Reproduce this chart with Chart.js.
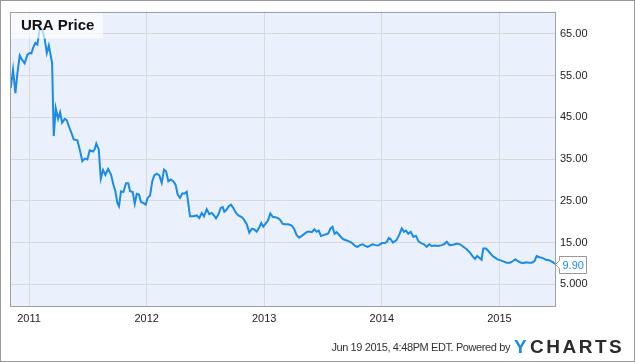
<!DOCTYPE html>
<html>
<head>
<meta charset="utf-8">
<script src="https://cdn.jsdelivr.net/npm/chart.js@4"></script>
<style>
  body { margin: 0; background: #fff; }
  canvas { display: block; }
</style>
</head>
<body>
<canvas id="priceChart" width="635" height="362"></canvas>
<script>
// decimal years
const dates = [
  2010.844, 2010.864, 2010.884, 2010.901, 2010.921, 2010.940, 2010.963, 2010.986,
  2011.006, 2011.020, 2011.034, 2011.054, 2011.071, 2011.085, 2011.096, 2011.113,
  2011.134, 2011.151, 2011.168, 2011.185, 2011.196, 2011.210, 2011.227, 2011.247,
  2011.264, 2011.281, 2011.304, 2011.321, 2011.338, 2011.360, 2011.380, 2011.411,
  2011.431, 2011.453, 2011.474, 2011.496, 2011.516, 2011.544, 2011.559, 2011.572,
  2011.593, 2011.610, 2011.629, 2011.649, 2011.672, 2011.697, 2011.717, 2011.734,
  2011.751, 2011.765, 2011.782, 2011.802, 2011.825, 2011.844, 2011.859, 2011.882,
  2011.899, 2011.916, 2011.935, 2011.952, 2011.972, 2011.992, 2012.009, 2012.029,
  2012.048, 2012.065, 2012.086, 2012.108, 2012.128, 2012.148, 2012.165, 2012.185,
  2012.205, 2012.227, 2012.247, 2012.264, 2012.284, 2012.304, 2012.321, 2012.341,
  2012.369, 2012.397, 2012.426, 2012.448, 2012.469, 2012.488, 2012.511, 2012.533,
  2012.554, 2012.573, 2012.590, 2012.610, 2012.630, 2012.647, 2012.661, 2012.681,
  2012.698, 2012.718, 2012.737, 2012.760, 2012.780, 2012.809, 2012.828, 2012.851,
  2012.873, 2012.894, 2012.913, 2012.936, 2012.958, 2012.975, 2012.992, 2013.013,
  2013.032, 2013.052, 2013.072, 2013.092, 2013.115, 2013.134, 2013.157, 2013.177,
  2013.205, 2013.234, 2013.256, 2013.276, 2013.298, 2013.319, 2013.341, 2013.367,
  2013.389, 2013.406, 2013.426, 2013.445, 2013.463, 2013.483, 2013.504, 2013.526,
  2013.545, 2013.564, 2013.581, 2013.598, 2013.615, 2013.632, 2013.651, 2013.673,
  2013.702, 2013.730, 2013.753, 2013.772, 2013.792, 2013.815, 2013.838, 2013.857,
  2013.880, 2013.900, 2013.923, 2013.945, 2013.968, 2013.985, 2014.002, 2014.027,
  2014.044, 2014.059, 2014.076, 2014.095, 2014.125, 2014.149, 2014.170, 2014.189,
  2014.206, 2014.225, 2014.246, 2014.268, 2014.291, 2014.312, 2014.339, 2014.359,
  2014.382, 2014.404, 2014.424, 2014.452, 2014.480, 2014.509, 2014.529, 2014.552,
  2014.576, 2014.608, 2014.639, 2014.665, 2014.693, 2014.722, 2014.750, 2014.773,
  2014.793, 2014.810, 2014.829, 2014.848, 2014.863, 2014.886, 2014.906, 2014.924,
  2014.943, 2014.963, 2014.984, 2015.005, 2015.033, 2015.060, 2015.090, 2015.116,
  2015.137, 2015.154, 2015.175, 2015.201, 2015.226, 2015.252, 2015.277, 2015.299,
  2015.317, 2015.341, 2015.371, 2015.396, 2015.422, 2015.443, 2015.456, 2015.473
];

const prices = [
  52.0, 56.4, 50.8, 55.6, 59.8, 58.8, 57.9, 60.0,
  60.4, 60.3, 61.6, 62.8, 62.4, 65.2, 66.4, 66.0,
  63.6, 60.4, 62.2, 59.6, 58.0, 40.5, 47.2, 44.6,
  46.2, 43.7, 44.6, 44.3, 42.9, 41.3, 39.7, 39.5,
  37.3, 34.5, 35.1, 34.9, 37.1, 36.8, 37.4, 38.7,
  37.3, 30.3, 32.4, 31.2, 32.6, 31.3, 28.9, 27.3,
  24.5, 23.7, 27.3, 27.1, 29.2, 29.2, 27.3, 27.1,
  24.3, 26.7, 26.5, 24.7, 24.5, 24.1, 25.7, 26.3,
  29.7, 31.1, 31.5, 31.1, 29.3, 32.5, 32.1, 29.7,
  30.1, 29.7, 28.8, 26.5, 25.7, 26.8, 26.7, 27.2,
  21.3, 21.3, 21.5, 20.9, 22.1, 21.3, 23.0, 21.8,
  22.1, 21.5, 20.8, 21.7, 23.3, 23.5, 22.4, 22.9,
  23.7, 24.1, 23.3, 22.1, 21.5, 21.1, 20.5, 19.4,
  17.4, 18.3, 18.2, 17.6, 18.7, 19.7, 18.8, 19.6,
  20.3, 22.0, 21.2, 21.1, 20.9, 20.5, 19.5, 19.4,
  19.4, 19.1, 18.2, 16.8, 16.2, 16.6, 17.1, 17.6,
  17.6, 17.5, 18.2, 17.6, 17.9, 16.6, 16.8, 17.0,
  17.2, 18.4, 18.8, 17.1, 17.5, 17.0, 16.4, 15.8,
  15.5, 15.2, 14.8, 14.2, 14.0, 14.4, 14.6, 14.2,
  14.0, 14.3, 14.6, 14.4, 14.3, 14.6, 14.9, 14.9,
  15.2, 16.1, 15.8, 15.0, 15.6, 16.9, 18.4, 17.6,
  17.9, 17.1, 17.6, 16.4, 16.6, 15.3, 14.8, 14.6,
  14.0, 14.6, 14.2, 14.3, 14.2, 14.4, 14.6, 15.2,
  14.4, 14.5, 14.8, 14.6, 14.0, 13.4, 12.6, 11.7,
  11.1, 11.8, 11.4, 10.9, 13.6, 13.6, 13.0, 12.4,
  11.8, 11.4, 11.0, 10.8, 10.5, 10.2, 10.2, 10.6,
  11.0, 10.6, 10.3, 10.1, 10.3, 10.2, 10.2, 10.6,
  11.8, 11.5, 11.3, 10.9, 10.8, 10.5, 10.3, 9.9
];

const xTicks = [2011, 2012, 2013, 2014, 2015];
const xTickLabels = ["2011", "2012", "2013", "2014", "2015"];
const yTicks = [5, 15, 25, 35, 45, 55, 65];
const yTickLabels = ["5.000", "15.00", "25.00", "35.00", "45.00", "55.00", "65.00"];

const seriesName = "URA Price";
const lastLabel = "9.90";
const footerText = "Jun 19 2015, 4:48PM EDT. Powered by";

const lineColor = "#1a8be8";
const gridColor = "#d9d9d9";

const chartDecor = {
  id: "chartDecor",
  beforeDraw(chart) {
    const { ctx, chartArea: a } = chart;
    ctx.save();
    ctx.fillStyle = "#eaf1fd";
    ctx.fillRect(a.left, a.top, a.right - a.left, a.bottom - a.top);
    ctx.restore();
  },
  afterDatasetsDraw(chart) {
    const { ctx, chartArea: a } = chart;
    ctx.save();
    // legend box
    ctx.fillStyle = "rgba(255,255,255,0.65)";
    ctx.fillRect(a.left, a.top, 93, 27);
    ctx.fillStyle = "#111";
    ctx.font = "bold 15px 'Liberation Sans', Arial, sans-serif";
    ctx.textBaseline = "middle";
    ctx.textAlign = "left";
    ctx.fillText(seriesName, a.left + 11, a.top + 14);

    // plot border
    ctx.strokeStyle = "#a0a0a0";
    ctx.lineWidth = 1;
    ctx.strokeRect(Math.round(a.left) + 0.5, Math.round(a.top) + 0.5,
      Math.round(a.right - a.left), Math.round(a.bottom - a.top));

    // last value callout
    const ys = chart.scales.y;
    const py = Math.round(ys.getPixelForValue(prices[prices.length - 1])) + 0.5;
    const bx = Math.round(a.right) + 4.5;
    ctx.beginPath();
    ctx.moveTo(bx - 4, py);
    ctx.lineTo(bx, py - 4);
    ctx.lineTo(bx, py - 8);
    ctx.lineTo(bx + 27, py - 8);
    ctx.lineTo(bx + 27, py + 9);
    ctx.lineTo(bx, py + 9);
    ctx.lineTo(bx, py + 4);
    ctx.closePath();
    ctx.fillStyle = "#fff";
    ctx.fill();
    ctx.strokeStyle = "#999";
    ctx.stroke();
    ctx.fillStyle = lineColor;
    ctx.font = "11px 'Liberation Sans', Arial, sans-serif";
    ctx.fillText(lastLabel, bx + 3, py + 1);

    // footer
    ctx.fillStyle = "#333";
    ctx.font = "11px 'Liberation Sans', Arial, sans-serif";
    ctx.textAlign = "right";
    ctx.letterSpacing = "-0.4px";
    ctx.fillText(footerText, 510, 348);
    ctx.textAlign = "left";
    ctx.font = "bold 19px 'Liberation Sans', Arial, sans-serif";
    ctx.fillStyle = "#1a8be8";
    ctx.letterSpacing = "0px";
    ctx.fillText("Y", 514, 348);
    ctx.fillStyle = "#2b2b2b";
    ctx.letterSpacing = "2.5px";
    ctx.fillText("CHARTS", 530, 348);
    ctx.letterSpacing = "0px";

    // outer frame
    ctx.strokeStyle = "#999";
    ctx.strokeRect(0.5, 0.5, chart.width - 1, chart.height - 1);
    ctx.restore();
  },
};

const chart = new Chart(document.getElementById("priceChart"), {
  type: "line",
  data: {
    datasets: [
      {
        label: seriesName,
        data: dates.map((d, i) => ({ x: d, y: prices[i] })),
        borderColor: lineColor,
        borderWidth: 2,
        pointRadius: 0,
        tension: 0,
        fill: false,
      },
    ],
  },
  options: {
    responsive: false,
    animation: false,
    layout: { padding: { left: 10, top: 10, right: 0, bottom: 0 } },
    plugins: {
      legend: { display: false },
      tooltip: { enabled: false },
    },
    scales: {
      x: {
        type: "linear",
        min: 2010.838,
        max: 2015.473,
        afterBuildTicks: (scale) => {
          scale.ticks = xTicks.map((v) => ({ value: v }));
        },
        afterFit: (scale) => {
          scale.height = 56;
        },
        ticks: {
          autoSkip: false,
          maxRotation: 0,
          padding: 6,
          color: "#222",
          font: { family: "'Liberation Sans', Arial, sans-serif", size: 11 },
          callback: (v) => xTickLabels[xTicks.indexOf(v)],
        },
        grid: { color: gridColor, drawTicks: false },
        border: { display: false },
      },
      y: {
        position: "right",
        min: -0.17,
        max: 70.3,
        afterBuildTicks: (scale) => {
          scale.ticks = yTicks.map((v) => ({ value: v }));
        },
        afterFit: (scale) => {
          scale.width = 80;
        },
        ticks: {
          padding: 5,
          color: "#222",
          font: { family: "'Liberation Sans', Arial, sans-serif", size: 11 },
          callback: (v) => yTickLabels[yTicks.indexOf(v)],
        },
        grid: { color: gridColor, drawTicks: false },
        border: { display: false },
      },
    },
  },
  plugins: [chartDecor],
});
</script>
</body>
</html>
